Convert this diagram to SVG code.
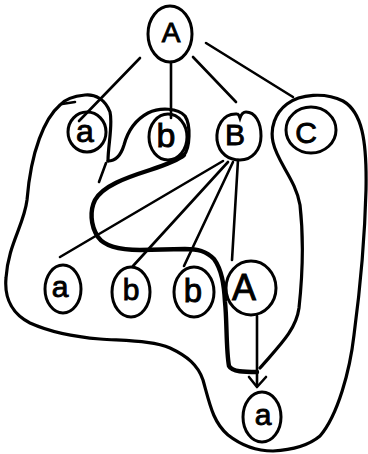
<svg xmlns="http://www.w3.org/2000/svg" width="368" height="454" viewBox="0 0 368 454">
<style>
.n{fill:none;stroke:#000;stroke-width:3}
.t{font-family:"Liberation Sans",Arial,sans-serif;fill:#000;stroke:#000;stroke-width:0.9;text-anchor:middle}
.e{fill:none;stroke:#000;stroke-width:2.6;stroke-linecap:round;stroke-linejoin:round}
.h{fill:none;stroke:#000;stroke-width:3.2;stroke-linecap:round;stroke-linejoin:round}
.hk{fill:none;stroke:#000;stroke-width:4.4;stroke-linecap:round;stroke-linejoin:round}
</style>
<rect width="368" height="454" fill="#fff"/>
<g id="regions">
<path class="hk" d="M257,372 C245,372 232,372 229,366 C226,350 227,320 225,302 C224,285 222,270 214,259 C206,251 198,249 185,249 L140,250 C120,250 105,247 98,237 C90,225 90,210 95,200 C103,186 125,178 150,170 C165,165 178,160 184,155"/>
<path class="h" d="M184,155 C190,148 191,125 185,116 C178,108 160,107 148,113 C135,120 128,130 124,145 C121,155 116,161 108,161"/>
<path class="h" d="M108,161 C108,145 113,125 110,112 C105,99 95,94 85,95 C75,96 65,99 60,105 C45,118 31,150 27,200 C24,225 8,245 6,278 C4,300 14,315 30,323 C50,332 75,337 100,339 C130,341 155,341 170,348 C187,356 198,365 203,380 C210,405 213,422 228,435 C242,446 258,451 273,451 C292,450 308,446 320,436 C338,415 350,370 354,335 C360,290 365,230 366,190 C367,140 362,112 343,101 C325,92 300,94 287,104 C275,113 270,128 273,142 C277,162 296,180 300,205 C304,240 302,280 299,308 C296,330 280,345 260,368"/>
<path class="e" d="M62,104 L75,102" stroke-width="2"/>
<path class="e" d="M106,163 L99,182" stroke-width="1.4"/>
</g>
<g id="connectors">
<path class="e" d="M140,58 L79,121"/>
<path class="e" d="M171,62 L171,118"/>
<path class="e" d="M193,57 Q215,80 236,102"/>
<path class="e" d="M206,43 L293,97"/>
<path class="e" d="M223,161 L60,257"/>
<path class="e" d="M228,162 L133,266"/>
<path class="e" d="M233,162 L184,266"/>
<path class="e" d="M238,160 L232,260"/>
<path class="e" d="M257,316 L257,386"/>
<path class="e" d="M249,377 L257,387 L266,377"/>
</g>
<g id="node-A-top"><ellipse class="n" cx="170" cy="34" rx="22" ry="28"/><text class="t" x="171" y="42" font-size="28">A</text></g>
<g id="node-a-1"><ellipse class="n" cx="87" cy="132" rx="19" ry="20"/><text class="t" x="85" y="142" font-size="32">a</text></g>
<g id="node-b-1"><ellipse class="n" cx="168" cy="137" rx="19" ry="23"/><text class="t" x="166" y="147" font-size="34">b</text></g>
<g id="node-B"><path class="n" d="M237,114 C222,113 216,128 217,140 C219,154 229,160 240,160 C252,160 261,150 261,136 C261,122 255,112 246,112 C243,112 241,115 240,118 C239,115 238,114 237,114 Z"/><text class="t" x="235" y="145" font-size="30">B</text></g>
<g id="node-C"><ellipse class="n" cx="311" cy="130" rx="25" ry="23"/><text class="t" x="306" y="143" font-size="30">C</text></g>
<g id="node-a-2"><ellipse class="n" cx="63" cy="289" rx="18" ry="24"/><text class="t" x="60" y="297" font-size="30">a</text></g>
<g id="node-b-2"><ellipse class="n" cx="131" cy="292" rx="19" ry="25"/><text class="t" x="131" y="300" font-size="30">b</text></g>
<g id="node-b-3"><ellipse class="n" cx="194" cy="292" rx="20" ry="25"/><text class="t" x="193" y="302" font-size="33">b</text></g>
<g id="node-A-2"><ellipse class="n" cx="251" cy="288" rx="25" ry="27"/><text class="t" x="244" y="300" font-size="36">A</text></g>
<g id="node-a-3"><ellipse class="n" cx="262" cy="417" rx="19" ry="25"/><text class="t" x="263" y="425" font-size="30">a</text></g>
</svg>
